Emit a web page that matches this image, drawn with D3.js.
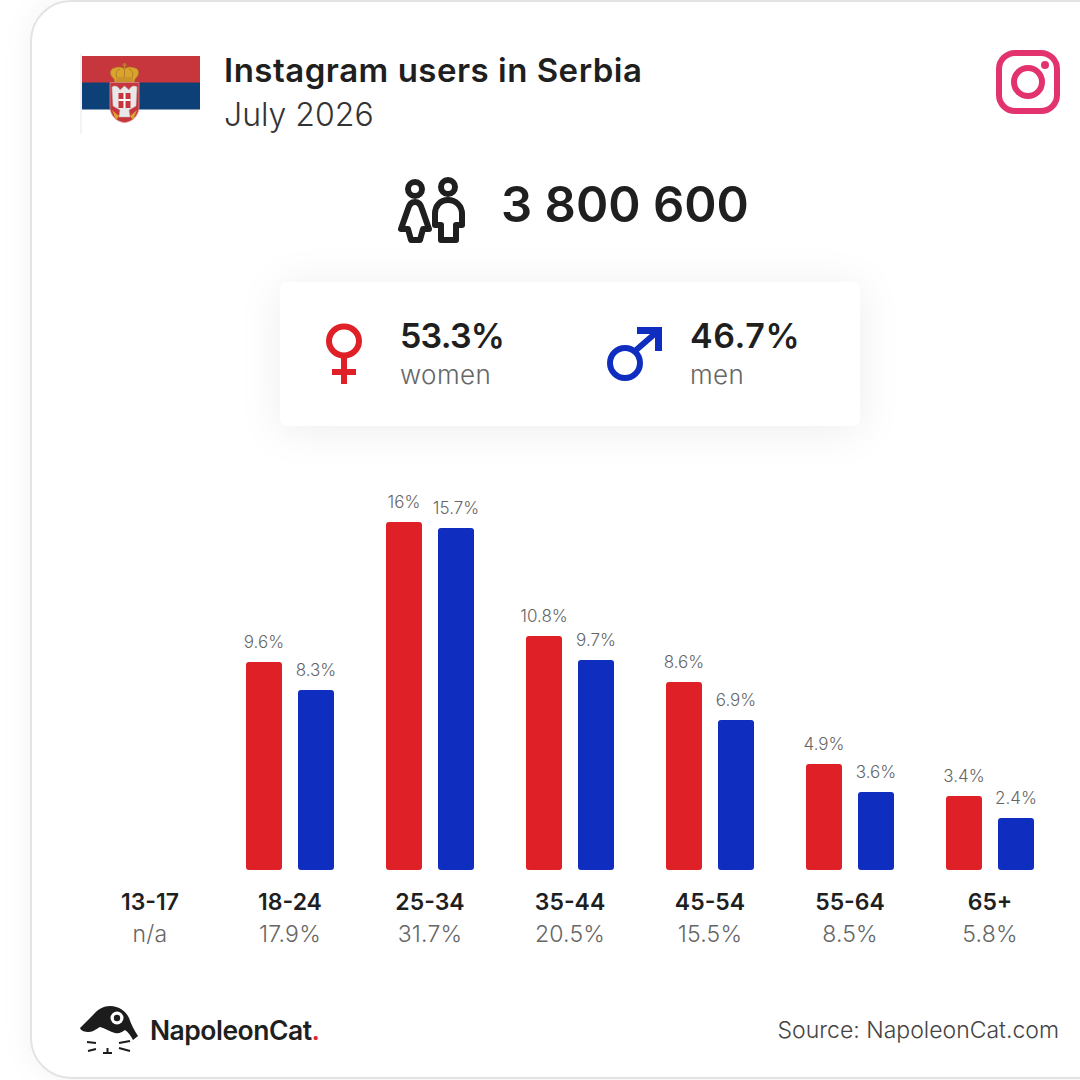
<!DOCTYPE html>
<html>
  <head>
    <script src="https://d3js.org/d3.v7.min.js"></script>
    <style>
      html, body { margin: 0; padding: 0; background: #fff; }
      svg { display: block; }
      text { font-family: Inter, "Noto Sans", sans-serif; fill: #1f1f1f; }
    </style>
  </head>
  <body>
    <script>

    // values
    var ageGroups = ["13-17", "18-24", "25-34", "35-44", "45-54", "55-64", "65+"];
    var ageTotals = ["n/a", "17.9%", "31.7%", "20.5%", "15.5%", "8.5%", "5.8%"];
    var women = [null, 9.6, 16, 10.8, 8.6, 4.9, 3.4];
    var men = [null, 8.3, 15.7, 9.7, 6.9, 3.6, 2.4];
    var sexes = ["women", "men"];

    var titleText = "Instagram users in Serbia";
    var dateText = "July 2026";
    var totalUsers = "3 800 600";
    var womenShare = "53.3%";
    var menShare = "46.7%";
    var sourceText = "Source: NapoleonCat.com";

    var RED = "#df2026";
    var BLUE = "#0f2dbf";
    var DARK = "#1f1f1f";
    var GREY = "#666";

    var w = 1080;
    var h = 1080;

    var svg = d3.select("body").append("svg")
      .attr("width", w)
      .attr("height", h);

    var defs = svg.append("defs");

    // soft shadows for the card and the gender box
    var cardBlur = defs.append("filter").attr("id", "cardShadow")
      .attr("x", "-10%").attr("y", "-10%").attr("width", "120%").attr("height", "120%");
    cardBlur.append("feDropShadow").attr("dx", 0).attr("dy", 0)
      .attr("stdDeviation", 14).attr("flood-color", "#000").attr("flood-opacity", 0.05);

    var boxBlur = defs.append("filter").attr("id", "boxShadow")
      .attr("x", "-20%").attr("y", "-50%").attr("width", "140%").attr("height", "200%");
    boxBlur.append("feDropShadow").attr("dx", 0).attr("dy", 4)
      .attr("stdDeviation", 20).attr("flood-color", "#000").attr("flood-opacity", 0.07);

    // outer card, runs off the right side
    svg.append("rect").attr("width", w).attr("height", h).attr("fill", "#fff");
    svg.append("rect")
      .attr("x", 31).attr("y", 1)
      .attr("width", 1120).attr("height", 1077)
      .attr("rx", 40)
      .attr("fill", "#fff")
      .attr("stroke", "#e3e3e3")
      .attr("stroke-width", 2)
      .attr("filter", "url(#cardShadow)");

    // flag
    var flag = svg.append("g").attr("transform", "translate(82,56)");
    flag.append("rect").attr("x", -2).attr("y", -2).attr("width", 2).attr("height", 80).attr("fill", "#f3f3f3");
    flag.append("rect").attr("width", 118).attr("height", 27).attr("fill", "#c6363c");
    flag.append("rect").attr("y", 26.5).attr("width", 118).attr("height", 27).attr("fill", "#0c4076");
    // crown
    flag.append("path").attr("d", "M32 23 C26 18 28 12 34 11.5 C37 10.5 40 11 42.5 13 C45 11 48 10.5 51 11.5 C57 12 59 18 53 23 L52 27 H33 Z")
      .attr("fill", "#d9a32c").attr("stroke", "#a5762a").attr("stroke-width", 0.7);
    flag.append("path").attr("d", "M35 22 C33 17 35 14 38 13 M50 22 C52 17 50 14 47 13 M42.5 13 V22")
      .attr("fill", "none").attr("stroke", "#a5762a").attr("stroke-width", 0.8);
    flag.append("rect").attr("x", 41.7).attr("y", 7).attr("width", 1.6).attr("height", 6).attr("fill", "#b8862c");
    flag.append("rect").attr("x", 40.5).attr("y", 8.5).attr("width", 4).attr("height", 1.4).attr("fill", "#b8862c");
    flag.append("path").attr("d", "M34 21 H51 V26.5 H34 Z").attr("fill", "#c9922a");
    // shield with the white eagle
    flag.append("path").attr("d", "M28 26.5 H57 V50 C57 60 50 66 42.5 66.5 C35 66 28 60 28 50 Z")
      .attr("fill", "#c6363c").attr("stroke", "#d9888b").attr("stroke-width", 0.8);
    flag.append("path").attr("d", "M30 31 C33 29 36 30 38 34 L42.5 30 L47 34 C49 30 52 29 55 31 L54 50 L47 54 L48 61 H37 L38 54 L31 50 Z")
      .attr("fill", "#e9e8e8").attr("stroke", "#b8b8b8").attr("stroke-width", 0.5);
    flag.append("rect").attr("x", 36.5).attr("y", 37).attr("width", 12).attr("height", 15).attr("fill", "#c6363c");
    flag.append("rect").attr("x", 41.5).attr("y", 37).attr("width", 2).attr("height", 15).attr("fill", "#fff");
    flag.append("rect").attr("x", 36.5).attr("y", 43).attr("width", 12).attr("height", 2).attr("fill", "#fff");
    flag.append("path").attr("d", "M30 54 L37 60 L34 64 Z M55 54 L48 60 L51 64 Z").attr("fill", "#d9a32c");

    // title
    svg.append("text").attr("x", 224).attr("y", 82)
      .attr("font-size", 33).attr("font-weight", 600).attr("letter-spacing", 0.5).text(titleText);
    svg.append("text").attr("x", 224).attr("y", 126)
      .attr("font-size", 32).attr("font-weight", 300).style("fill", "#333").text(dateText);

    // instagram icon
    var ig = svg.append("g").attr("fill", "none").attr("stroke", "#e2336f");
    ig.append("rect").attr("x", 999).attr("y", 53).attr("width", 58).attr("height", 58)
      .attr("rx", 16).attr("stroke-width", 6);
    ig.append("circle").attr("cx", 1028).attr("cy", 82).attr("r", 14).attr("stroke-width", 6);
    ig.append("circle").attr("cx", 1045).attr("cy", 65).attr("r", 4).attr("fill", "#e2336f").attr("stroke", "none");

    // people icon
    var people = svg.append("g")
      .attr("fill", "none").attr("stroke", DARK).attr("stroke-width", 6)
      .attr("stroke-linejoin", "round").attr("stroke-linecap", "round");
    people.append("circle").attr("cx", 415).attr("cy", 189).attr("r", 7);
    people.append("circle").attr("cx", 448).attr("cy", 187).attr("r", 7);
    people.append("path").attr("d", "M415 202 C411 202 409 205 408 209 L401 229 H408 L411 240 H420 L423 229 H429 L422 209 C421 205 419 202 415 202 Z");
    people.append("path").attr("d", "M448 200 C440 200 435 206 435 214 V225 H441 V240 H456 V225 H462 V214 C462 206 456 200 448 200 Z");

    svg.append("text").attr("x", 625).attr("y", 222).attr("text-anchor", "middle")
      .attr("font-size", 49).attr("font-weight", 600).text(totalUsers);

    // gender box
    svg.append("rect")
      .attr("x", 280).attr("y", 282).attr("width", 580).attr("height", 144)
      .attr("rx", 8).attr("fill", "#fff").attr("filter", "url(#boxShadow)");

    // venus symbol
    var venus = svg.append("g").attr("stroke", RED).attr("fill", "none").attr("stroke-width", 6);
    venus.append("ellipse").attr("cx", 344).attr("cy", 341).attr("rx", 15).attr("ry", 14.5);
    venus.append("line").attr("x1", 344).attr("x2", 344).attr("y1", 356).attr("y2", 384);
    venus.append("line").attr("x1", 332).attr("x2", 356).attr("y1", 372).attr("y2", 372);

    // mars symbol
    var mars = svg.append("g").attr("stroke", BLUE).attr("fill", "none").attr("stroke-width", 6);
    mars.append("ellipse").attr("cx", 625).attr("cy", 363).attr("rx", 15).attr("ry", 15);
    mars.append("line").attr("x1", 635).attr("y1", 351).attr("x2", 658).attr("y2", 331);
    svg.append("path").attr("d", "M637 327 H662 V351 H655 V334 H637 Z").attr("fill", BLUE);

    svg.append("text").attr("x", 400).attr("y", 348).attr("font-size", 34).attr("font-weight", 600).attr("letter-spacing", -0.8).text(womenShare);
    svg.append("text").attr("x", 400).attr("y", 384).attr("font-size", 26).attr("font-weight", 300).attr("letter-spacing", 0.4).style("fill", GREY).text("women");
    svg.append("text").attr("x", 690).attr("y", 348).attr("font-size", 34).attr("font-weight", 600).attr("letter-spacing", 0.6).text(menShare);
    svg.append("text").attr("x", 690).attr("y", 384).attr("font-size", 26).attr("font-weight", 300).attr("letter-spacing", 0.4).style("fill", GREY).text("men");

    // scales
    var xScale = d3.scaleBand()
      .domain(ageGroups)
      .range([80, 1060]);

    var sexScale = d3.scaleBand()
      .domain(sexes)
      .range([-44, 44])
      .paddingInner(16 / 52);

    var yScale = d3.scaleLinear()
      .domain([0, 16])
      .range([870, 522]);

    var seriesBySex = { women: women, men: men };
    var colorBySex = { women: RED, men: BLUE };

    // one record per drawn bar
    var barData = [];
    sexes.forEach(function(s) {
      ageGroups.forEach(function(g, i) {
        if (seriesBySex[s][i] !== null) {
          barData.push({ group: g, sex: s, value: seriesBySex[s][i] });
        }
      });
    });

    function barX(d) {
      return xScale(d.group) + xScale.bandwidth() / 2 + sexScale(d.sex);
    }

    // the source image sits on a 2px grid, so snap bar tops to it
    function barTop(d) {
      return Math.round(yScale(d.value) / 2) * 2;
    }

    svg.selectAll("rect.bar")
      .data(barData)
      .enter()
      .append("rect")
      .attr("class", "bar")
      .attr("x", barX)
      .attr("y", barTop)
      .attr("width", sexScale.bandwidth())
      .attr("height", function(d) { return yScale(0) - barTop(d); })
      .attr("rx", 3)
      .attr("fill", function(d) { return colorBySex[d.sex]; });

    // value labels above bars
    svg.selectAll("text.value")
      .data(barData)
      .enter()
      .append("text")
      .attr("class", "value")
      .attr("x", function(d) { return barX(d) + sexScale.bandwidth() / 2; })
      .attr("y", function(d) { return barTop(d) - 14; })
      .attr("text-anchor", "middle")
      .attr("font-size", 17)
      .attr("font-weight", 300)
      .style("fill", GREY)
      .text(function(d) { return d.value + "%"; });

    // category axis, labels only
    var xAxis = svg.append("g")
      .attr("transform", "translate(0,910)")
      .call(d3.axisBottom(xScale).tickSize(0).tickPadding(0));
    xAxis.select(".domain").remove();
    xAxis.selectAll("text")
      .attr("dy", 0)
      .attr("y", 0)
      .attr("font-size", 23)
      .attr("font-weight", 600);

    svg.selectAll("text.total")
      .data(ageGroups)
      .enter()
      .append("text")
      .attr("class", "total")
      .attr("x", function(d) { return xScale(d) + xScale.bandwidth() / 2; })
      .attr("y", 942)
      .attr("text-anchor", "middle")
      .attr("font-size", 23)
      .attr("font-weight", 300)
      .attr("letter-spacing", 0.2)
      .style("fill", GREY)
      .text(function(d, i) { return ageTotals[i]; });

    // napoleoncat logo
    var logo = svg.append("g");
    logo.append("path")
      .attr("d", "M80 1028 L93 1015 C98 1009 104 1006 110 1006 C119 1006 126 1011 129 1018 C131 1024 134 1030 138 1036 L133 1040 C131 1036 128 1032 125 1030 C122 1032 119 1034 115 1033 C110 1032 105 1028 100 1027 C96 1029 93 1032 89 1032 C85 1032 81 1031 80 1028 Z")
      .attr("fill", "#1c1c1c");
    logo.append("circle").attr("cx", 117).attr("cy", 1018).attr("r", 6.5).attr("fill", "#fff");
    logo.append("circle").attr("cx", 117).attr("cy", 1018).attr("r", 3.2).attr("fill", "#1c1c1c");
    var whiskers = logo.append("g").attr("stroke", "#1c1c1c").attr("stroke-width", 2).attr("fill", "none");
    whiskers.append("path").attr("d", "M87 1042 L96 1043 M88 1051 L96 1049 M130 1041 L119 1043 M130 1051 L119 1048 M103 1053 H112 M107.5 1048 V1053");

    var logoText = svg.append("text").attr("x", 150).attr("y", 1040)
      .attr("font-size", 26.5).attr("font-weight", 600).attr("letter-spacing", -0.5);
    logoText.append("tspan").text("NapoleonCat");
    logoText.append("tspan").style("fill", "#e8222e").text(".");

    svg.append("text").attr("x", 1059).attr("y", 1038).attr("text-anchor", "end")
      .attr("font-size", 23).attr("font-weight", 300).style("fill", "#444").text(sourceText);

    </script>
  </body>
</html>
